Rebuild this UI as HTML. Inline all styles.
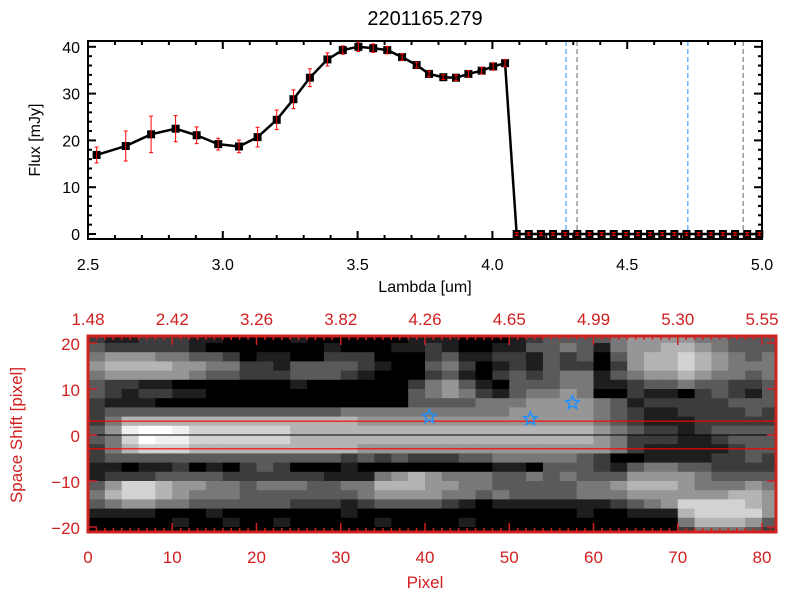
<!DOCTYPE html>
<html><head><meta charset="utf-8">
<style>
html,body{margin:0;padding:0;background:#fff;}
svg{display:block;font-family:"Liberation Sans",sans-serif;}
</style></head>
<body>
<svg id="c" width="800" height="600" viewBox="0 0 800 600"></svg>
<script>
const lambdas=[2.532,2.640,2.734,2.825,2.903,2.983,3.060,3.129,3.200,3.262,3.323,3.388,3.445,3.503,3.558,3.610,3.665,3.719,3.765,3.818,3.865,3.911,3.960,4.003,4.047,4.090,4.135,4.18,4.225,4.27,4.315,4.36,4.405,4.45,4.495,4.54,4.585,4.63,4.675,4.72,4.765,4.81,4.855,4.9,4.945,4.99];
const flux=[16.9,18.8,21.3,22.5,21.1,19.2,18.7,20.7,24.4,28.8,33.4,37.3,39.3,40.0,39.7,39.3,37.8,36.1,34.2,33.5,33.4,34.2,34.9,35.8,36.5,0,0,0,0,0,0,0,0,0,0,0,0,0,0,0,0,0,0,0,0,0];
const fluxErr=[1.7,3.2,3.9,2.8,1.8,1.25,1.35,2.1,2.1,2.0,1.9,1.4,0.9,1.0,0.9,0.8,0.7,0.6,0.6,0.5,0.6,0.7,0.7,0.8,0.8,0.3,0.3,0.3,0.3,0.3,0.3,0.3,0.3,0.3,0.3,0.3,0.3,0.3,0.3,0.3,0.3,0.3,0.3,0.3,0.3,0.3];
const blueLines=[4.273,4.725];
const grayLines=[4.314,4.93];
const xTicks=[2.5,3.0,3.5,4.0,4.5,5.0];
const xTickLabels=["2.5","3.0","3.5","4.0","4.5","5.0"];
const yTicks=[0,10,20,30,40];
const pixTicks=[0,10,20,30,40,50,60,70,80];
const lamTopLabels=["1.48","2.42","3.26","3.82","4.26","4.65","4.99","5.30","5.55"];
const shiftTicks=[-20,-10,0,10,20];
const heatRows=[21,19,17,15,13,11,9,7,5,3,1,-1,-3,-5,-7,-9,-11,-13,-15,-17,-19,-21];
const heat=[
"21122211000010000001110001233334555544333",
"32222210000000100011210011334314556654333",
"45554433201100222000231122132303566765434",
"56666554422133332100342012132202566765444",
"45555543322233321000231023234413455654434",
"32211000000010000002453103334411233433223",
"32122110000000000003454213445400211023213",
"21110000000000000003333444555543122222333",
"23333333333333344444444445555543211222232",
"24666666666666665555555555555543211122222",
"35899877777766666666666666666654322123333",
"34798877777766666666666666666654222112333",
"24677766666666665555555555555554211111233",
"23333333333333323232223344444320011112232",
"11011201023200010000000011033321344332222",
"12223333222222111456544433434333555543333",
"35776554434443344666554433333445666544454",
"46776544433333334555544343333444555555665",
"34554433333322212333321011111112345777765",
"11110001000000010000000000000100111677775",
"00000100100100000100001000000000000466653",
"00000000000000000000000000000000000244432"];
const stars=[[40.5,4],[52.5,3.5],[57.5,7]];

const svg=document.getElementById('c');
const NS='http://www.w3.org/2000/svg';
function mk(tag,attrs,parent){const e=document.createElementNS(NS,tag);for(const k in attrs)e.setAttribute(k,attrs[k]);(parent||svg).appendChild(e);return e;}
function txt(s,x,y,size,fill,anchor,parent){const t=mk('text',{x:x,y:y,'font-size':size,fill:fill,'text-anchor':anchor||'middle'},parent);t.textContent=s;return t;}

const L=88,R=762,T=41,B=239;
const sx=v=>L+(v-2.5)/2.5*(R-L);
const sy=v=>234-v*4.68;
const topG=mk('g',{});


const title=txt('2201165.279',425,25,20,'#000');


blueLines.forEach(l=>{const e=mk('line',{x1:sx(l),x2:sx(l),y1:T,y2:B,stroke:'#1e90ff','stroke-width':1,'stroke-dasharray':'5,3'},topG);

});
grayLines.forEach(l=>{const e=mk('line',{x1:sx(l),x2:sx(l),y1:T,y2:B,stroke:'#666','stroke-width':1,'stroke-dasharray':'5,3'},topG);

});
const fr=mk('rect',{x:L,y:T,width:R-L,height:B-T,fill:'none',stroke:'#000','stroke-width':2},topG);


for(let i=0;i<=25;i++){const v=2.5+i*0.1;const maj=i%5==0;const x=sx(v);const len=maj?8:4;
mk('line',{x1:x,x2:x,y1:B,y2:B-len,stroke:'#000','stroke-width':2},topG);mk('line',{x1:x,x2:x,y1:T,y2:T+len,stroke:'#000','stroke-width':2},topG);}
xTicks.forEach((v,i)=>{const t=txt(xTickLabels[i],sx(v),270,16,'#000','middle',topG);

});
for(let v=0;v<=40;v+=2){const maj=v%10==0;const y=sy(v);const len=maj?8:4;
mk('line',{x1:L,x2:L+len,y1:y,y2:y,stroke:'#000','stroke-width':2},topG);mk('line',{x1:R,x2:R-len,y1:y,y2:y,stroke:'#000','stroke-width':2},topG);}
yTicks.forEach(v=>{const t=txt(String(v),80,sy(v)+6,16,'#000','end',topG);

});
const xt=txt('Lambda [um]',425,292,16,'#000','middle',topG);


const yt=txt('Flux [mJy]',0,0,16,'#000','middle',topG);
yt.setAttribute('transform','translate(40,140) rotate(-90)');


const ln=mk('polyline',{points:lambdas.map((l,i)=>sx(l)+','+sy(flux[i])).join(' '),fill:'none',stroke:'#000','stroke-width':2.5},topG);


lambdas.forEach((l,i)=>{const x=sx(l),y=sy(flux[i]);
const p=mk('rect',{x:x-4,y:y-4,width:8,height:8,fill:'#000'},topG);


const y1=sy(flux[i]+fluxErr[i]),y2=sy(flux[i]-fluxErr[i]);
const eb=mk('path',{d:`M${x},${y1}V${y2}M${x-2},${y1}H${x+2}M${x-2},${y2}H${x+2}`,stroke:'#f00','stroke-width':1,fill:'none'},topG);

});

const IL=88,IR=776,IT=336,IB=532;
const px=p=>IL+p*(762-IL)/80;
const ps=s=>435-s*4.6;
const RED='#d02020';
const bot=mk('g',{});


const cp=mk('clipPath',{id:'clip'},bot);mk('rect',{x:IL,y:IT,width:IR-IL,height:IB-IT},cp);
const hg=mk('g',{'clip-path':'url(#clip)'},bot);
mk('rect',{x:IL,y:IT,width:IR-IL,height:IB-IT,fill:'#000'},hg);
heatRows.forEach((s,r)=>{const row=heat[r];for(let c=0;c<row.length;c++){const v=+row[c];const g=Math.min(255,Math.round(v*30));
const x0=px(c*2),x1=px(c*2+2),y0=ps(s+1),y1=ps(s-1);
const cell=mk('rect',{x:x0,y:y0,width:x1-x0+0.5,height:y1-y0+0.5,fill:`rgb(${g},${g},${g})`},hg);

}});
[3,-3].forEach(s=>{const e=mk('line',{x1:IL,x2:IR,y1:ps(s),y2:ps(s),stroke:'#f00','stroke-width':1.2},bot);

});
const zl=mk('line',{x1:IL,x2:IR,y1:ps(0),y2:ps(0),stroke:'#000','stroke-width':1},bot);


function starPath(cx,cy,r){let d='';for(let i=0;i<10;i++){const a=-Math.PI/2+i*Math.PI/5;const rr=i%2?r*0.45:r;d+=(i?'L':'M')+(cx+rr*Math.cos(a)).toFixed(1)+','+(cy+rr*Math.sin(a)).toFixed(1);}return d+'Z';}
stars.forEach(([p,s])=>{const e=mk('path',{d:starPath(px(p),ps(s),7),fill:'none',stroke:'#1e90ff','stroke-width':1.5},bot);

});
const bf=mk('rect',{x:IL,y:IT,width:IR-IL,height:IB-IT,fill:'none',stroke:RED,'stroke-width':3},bot);


for(let p=0;p<=81;p++){const x=px(p);const len=p%10==0?9:4;
mk('line',{x1:x,x2:x,y1:IB,y2:IB-len,stroke:RED,'stroke-width':1.5},bot);mk('line',{x1:x,x2:x,y1:IT,y2:IT+len,stroke:RED,'stroke-width':1.5},bot);}
shiftTicks.forEach(s=>{const y=ps(s);mk('line',{x1:IL,x2:IL+9,y1:y,y2:y,stroke:RED,'stroke-width':1.5},bot);mk('line',{x1:IR,x2:IR-9,y1:y,y2:y,stroke:RED,'stroke-width':1.5},bot);
const t=txt(String(s).replace('-','\u2212'),80,y+7,17,RED,'end',bot);

});
pixTicks.forEach((p,i)=>{const t=txt(String(p),px(p),563,17,RED,'middle',bot);


const u=txt(lamTopLabels[i],px(p),325,17,RED,'middle',bot);

});
const pt=txt('Pixel',425,588,17,RED,'middle',bot);


const st=txt('Space Shift [pixel]',0,0,17,RED,'middle',bot);
st.setAttribute('transform','translate(22,435) rotate(-90)');


</script>
</body></html>
